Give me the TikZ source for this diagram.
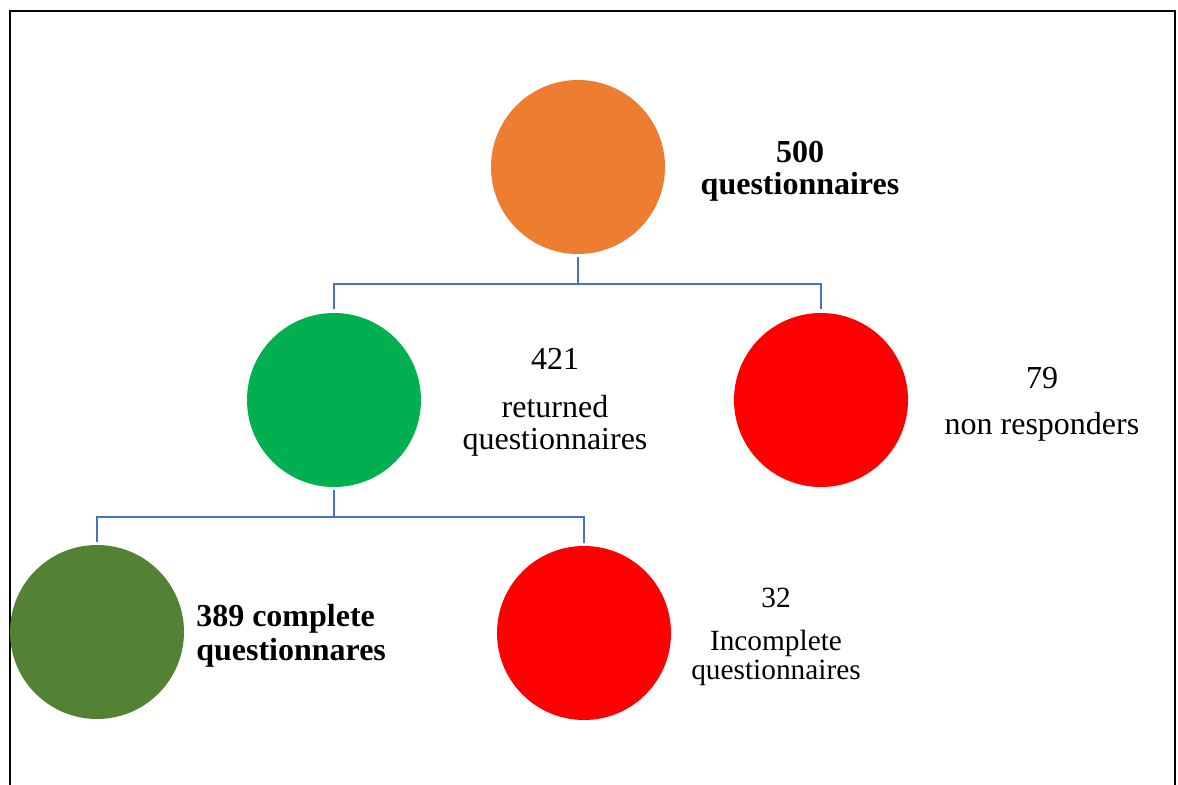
\documentclass[tikz,border=0pt]{standalone}
\usepackage{fontspec}
\setmainfont{Liberation Serif}
\usetikzlibrary{positioning,calc}
\definecolor{RootOrange}{HTML}{ED7D31}
\definecolor{ReturnGreen}{HTML}{00B050}
\definecolor{LossRed}{HTML}{FF0000}
\definecolor{DoneGreen}{HTML}{548235}
\definecolor{LinkBlue}{HTML}{4472C4}

\begin{document}
\begin{tikzpicture}[
        x=0.75pt, y=-0.75pt,
        font=\fontsize{24}{24}\selectfont,
        disc/.style={
          circle,
          draw=none,
          inner sep=0pt,
          minimum size=130.5pt
        },
        label/.style={
          align=center,
          inner sep=0pt
        },
        link/.style={draw=LinkBlue, line width=2pt}
      ]
        \useasboundingbox (0,0) rectangle (1178,785);
        \draw[line width=1.5pt] (10,790) -- (10,11) -- (1175,11) -- (1175,790);

        \node[disc, fill=RootOrange] (total) at (578,167) {};
        \node[disc, fill=ReturnGreen] (returned) at (334,400) {};
        \node[disc, fill=LossRed] (nonresp) at (821,400) {};
        \node[disc, fill=DoneGreen] (complete) at (97,632) {};
        \node[disc, fill=LossRed] (incomplete) at (584,633) {};

        \node[label, font=\fontsize{24}{24}\bfseries] (totaltxt) at (800,171) {500\\questionnaires};
        \node[label] (returnedtxt) at (555,402) {421\\[12pt]returned\\questionnaires};
        \node[label] (nonresptxt) at (1042,404) {79\\[10.5pt]non responders};
        \node[label, align=left, anchor=west, font=\fontsize{24}{25.5}\bfseries] (completetxt) at (196,636) {389 complete\\questionnares};
        \node[label, font=\fontsize{22}{22}\selectfont] (incompletetxt) at (776,637) {32\\[10pt]Incomplete\\questionnaires};

        \coordinate (split1) at (578,284);
        \coordinate (split2) at (334,517);

        \draw[link] ([yshift=-2pt]total.south) -- (split1) -| ([yshift=2.5pt]returned.north);
        \draw[link] (split1) -| ([yshift=2.5pt]nonresp.north);
        \draw[link] ([yshift=-2pt]returned.south) -- (split2) -| ([yshift=2pt]complete.north);
        \draw[link] (split2) -| ([yshift=2pt]incomplete.north);
      \end{tikzpicture}
\end{document}
